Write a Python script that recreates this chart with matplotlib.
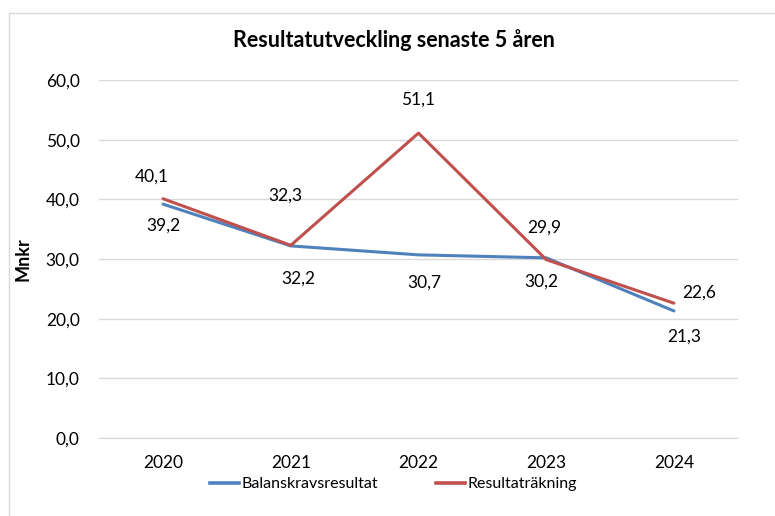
import matplotlib.pyplot as plt
from matplotlib.lines import Line2D

years = ['2020', '2021', '2022', '2023', '2024']
balanskrav = [39.2, 32.2, 30.7, 30.2, 21.3]
resultat = [40.1, 32.3, 51.1, 29.9, 22.6]
yticks = [0, 10, 20, 30, 40, 50, 60]

# label offsets in pixels (layout only), as placed in the original
blue_off = [(0, -22), (8, -33), (6, -28), (-5, -24), (10, -26)]
red_off = [(-11, 22), (-5, 50), (0, 33), (-2, 32), (25, 11)]

plt.rcParams['font.family'] = ['Lato', 'DejaVu Sans']

fig = plt.figure(figsize=(7.75, 5.16), dpi=100)
ax = fig.add_axes([0.128, 0.151, 0.824, 0.694])

blue = '#4F81BD'
red = '#C0504D'
x = list(range(len(years)))

ax.plot(x, balanskrav, color=blue, lw=2.2, solid_capstyle='round', zorder=3)
ax.plot(x, resultat, color=red, lw=2.2, solid_capstyle='round', zorder=4)

def fmt(v):
    return f'{v:.1f}'.replace('.', ',')

for i, v in enumerate(balanskrav):
    ax.annotate(fmt(v), (i, v), xytext=blue_off[i], textcoords='offset pixels',
                ha='center', va='center', fontsize=12.5, color='#000000')
for i, v in enumerate(resultat):
    ax.annotate(fmt(v), (i, v), xytext=red_off[i], textcoords='offset pixels',
                ha='center', va='center', fontsize=12.5, color='#000000')

ax.set_xlim(-0.5, len(years) - 0.5)
ax.set_ylim(0, 60)
ax.set_yticks(yticks)
ax.set_yticklabels([fmt(t) for t in yticks], fontsize=12.5)
ax.set_xticks(x)
ax.set_xticklabels(years, fontsize=12.5)
ax.tick_params(axis='both', length=0)
ax.tick_params(axis='x', pad=12)
ax.tick_params(axis='y', pad=14)
ax.grid(axis='y', color='#D9D9D9', lw=1)
ax.set_axisbelow(True)
for s in ax.spines.values():
    s.set_visible(False)
ax.spines['bottom'].set_visible(True)
ax.spines['bottom'].set_color('#D9D9D9')

ax.set_ylabel('Mnkr', fontsize=13, fontweight='bold', labelpad=10)
fig.text(0.508, 0.922, 'Resultatutveckling senaste 5 åren', ha='center', va='center',
         fontsize=15.5, fontweight='bold')

handles = [Line2D([], [], color=blue, lw=2.6), Line2D([], [], color=red, lw=2.6)]
fig.legend(handles, ['Balanskravsresultat', 'Resultaträkning'], loc='center',
           bbox_to_anchor=(0.508, 0.062), ncol=2, frameon=False, fontsize=11.5,
           handlelength=1.8, handletextpad=0.2, columnspacing=3.6)

# light frame around the chart (left and top edges visible)
fig.add_artist(Line2D([9 / 775, 9 / 775], [0, 1 - 13 / 516], transform=fig.transFigure,
                      color='#D9D9D9', lw=1))
fig.add_artist(Line2D([9 / 775, 1], [1 - 13 / 516, 1 - 13 / 516], transform=fig.transFigure,
                      color='#D9D9D9', lw=1))

fig.savefig('out.png', dpi=100)
